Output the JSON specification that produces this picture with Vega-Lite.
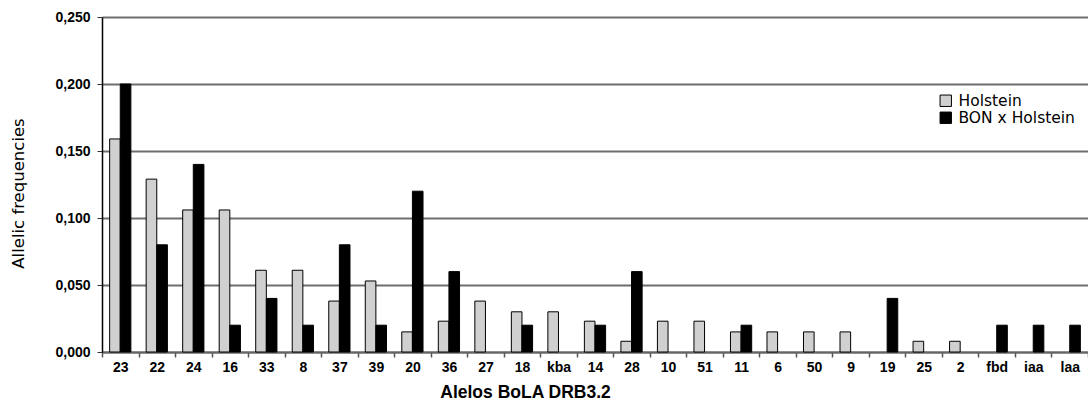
{
  "$schema": "https://vega.github.io/schema/vega-lite/v6.json",
  "autosize": "none",
  "padding": {"left": 102, "top": 17, "right": 0, "bottom": 50},
  "width": 986,
  "height": 335,
  "background": "white",
  "data": {
    "values": [
      {"allele": "23", "group": "Holstein", "freq": 0.159}, {"allele": "23", "group": "BON x Holstein", "freq": 0.200},
      {"allele": "22", "group": "Holstein", "freq": 0.129}, {"allele": "22", "group": "BON x Holstein", "freq": 0.080},
      {"allele": "24", "group": "Holstein", "freq": 0.106}, {"allele": "24", "group": "BON x Holstein", "freq": 0.140},
      {"allele": "16", "group": "Holstein", "freq": 0.106}, {"allele": "16", "group": "BON x Holstein", "freq": 0.020},
      {"allele": "33", "group": "Holstein", "freq": 0.061}, {"allele": "33", "group": "BON x Holstein", "freq": 0.040},
      {"allele": "8", "group": "Holstein", "freq": 0.061}, {"allele": "8", "group": "BON x Holstein", "freq": 0.020},
      {"allele": "37", "group": "Holstein", "freq": 0.038}, {"allele": "37", "group": "BON x Holstein", "freq": 0.080},
      {"allele": "39", "group": "Holstein", "freq": 0.053}, {"allele": "39", "group": "BON x Holstein", "freq": 0.020},
      {"allele": "20", "group": "Holstein", "freq": 0.015}, {"allele": "20", "group": "BON x Holstein", "freq": 0.120},
      {"allele": "36", "group": "Holstein", "freq": 0.023}, {"allele": "36", "group": "BON x Holstein", "freq": 0.060},
      {"allele": "27", "group": "Holstein", "freq": 0.038}, {"allele": "27", "group": "BON x Holstein", "freq": 0},
      {"allele": "18", "group": "Holstein", "freq": 0.030}, {"allele": "18", "group": "BON x Holstein", "freq": 0.020},
      {"allele": "kba", "group": "Holstein", "freq": 0.030}, {"allele": "kba", "group": "BON x Holstein", "freq": 0},
      {"allele": "14", "group": "Holstein", "freq": 0.023}, {"allele": "14", "group": "BON x Holstein", "freq": 0.020},
      {"allele": "28", "group": "Holstein", "freq": 0.008}, {"allele": "28", "group": "BON x Holstein", "freq": 0.060},
      {"allele": "10", "group": "Holstein", "freq": 0.023}, {"allele": "10", "group": "BON x Holstein", "freq": 0},
      {"allele": "51", "group": "Holstein", "freq": 0.023}, {"allele": "51", "group": "BON x Holstein", "freq": 0},
      {"allele": "11", "group": "Holstein", "freq": 0.015}, {"allele": "11", "group": "BON x Holstein", "freq": 0.020},
      {"allele": "6", "group": "Holstein", "freq": 0.015}, {"allele": "6", "group": "BON x Holstein", "freq": 0},
      {"allele": "50", "group": "Holstein", "freq": 0.015}, {"allele": "50", "group": "BON x Holstein", "freq": 0},
      {"allele": "9", "group": "Holstein", "freq": 0.015}, {"allele": "9", "group": "BON x Holstein", "freq": 0},
      {"allele": "19", "group": "Holstein", "freq": 0}, {"allele": "19", "group": "BON x Holstein", "freq": 0.040},
      {"allele": "25", "group": "Holstein", "freq": 0.008}, {"allele": "25", "group": "BON x Holstein", "freq": 0},
      {"allele": "2", "group": "Holstein", "freq": 0.008}, {"allele": "2", "group": "BON x Holstein", "freq": 0},
      {"allele": "fbd", "group": "Holstein", "freq": 0}, {"allele": "fbd", "group": "BON x Holstein", "freq": 0.020},
      {"allele": "iaa", "group": "Holstein", "freq": 0}, {"allele": "iaa", "group": "BON x Holstein", "freq": 0.020},
      {"allele": "laa", "group": "Holstein", "freq": 0}, {"allele": "laa", "group": "BON x Holstein", "freq": 0.020}
    ]
  },
  "transform": [{"filter": "datum.freq > 0"}],
  "mark": {"type": "bar", "stroke": "black", "strokeWidth": 1},
  "encoding": {
    "x": {
      "field": "allele", "type": "nominal", "sort": null,
      "scale": {"paddingInner": 0, "paddingOuter": 0},
      "axis": {
        "title": "Alelos BoLA DRB3.2",
        "titleFont": "Liberation Sans", "titleFontSize": 17.5, "titleFontWeight": "bold", "titleColor": "black",
        "titleX": 423, "titleY": 40, "titleAlign": "center", "titleBaseline": "middle",
        "labelAngle": 0, "labelFont": "Liberation Sans", "labelFontSize": 14, "labelFontWeight": "bold", "labelColor": "black",
        "labelPadding": 3,
        "tickBand": "extent", "tickSize": 5, "tickColor": "#555555", "tickWidth": 1.5,
        "domainColor": "#666666", "domainWidth": 2,
        "grid": false
      }
    },
    "xOffset": {
      "field": "group", "type": "nominal",
      "sort": ["Holstein", "BON x Holstein"],
      "scale": {"paddingInner": 0, "paddingOuter": 0.72}
    },
    "y": {
      "field": "freq", "type": "quantitative",
      "scale": {"domain": [0, 0.25], "nice": false},
      "axis": {
        "title": "Allelic frequencies",
        "titleFont": "DejaVu Sans", "titleFontSize": 16.5, "titleFontWeight": "normal", "titleColor": "black",
        "titleX": -84, "titleY": 176, "titleAngle": -90, "titleAlign": "center", "titleBaseline": "middle",
        "values": [0, 0.05, 0.1, 0.15, 0.2, 0.25],
        "labelExpr": "replace(format(datum.value, '.3f'), '.', ',')",
        "labelFont": "Liberation Sans", "labelFontSize": 14, "labelFontWeight": "bold", "labelColor": "black",
        "labelPadding": 7,
        "tickSize": 5, "tickColor": "#333333",
        "domainColor": "black", "domainWidth": 1.5,
        "grid": true, "gridColor": "#6e6e6e", "gridWidth": 1.8
      }
    },
    "fill": {
      "field": "group", "type": "nominal",
      "sort": ["Holstein", "BON x Holstein"],
      "scale": {"domain": ["Holstein", "BON x Holstein"], "range": ["#d0d0d0", "black"]},
      "legend": {
        "title": null, "orient": "none", "legendX": 836, "legendY": 76,
        "symbolType": "square", "symbolSize": 130, "symbolStrokeColor": "black", "symbolStrokeWidth": 1,
        "labelFont": "DejaVu Sans", "labelFontSize": 15.5, "labelColor": "black", "labelOffset": 5,
        "rowPadding": -3
      }
    }
  },
  "config": {"view": {"stroke": null}}
}
